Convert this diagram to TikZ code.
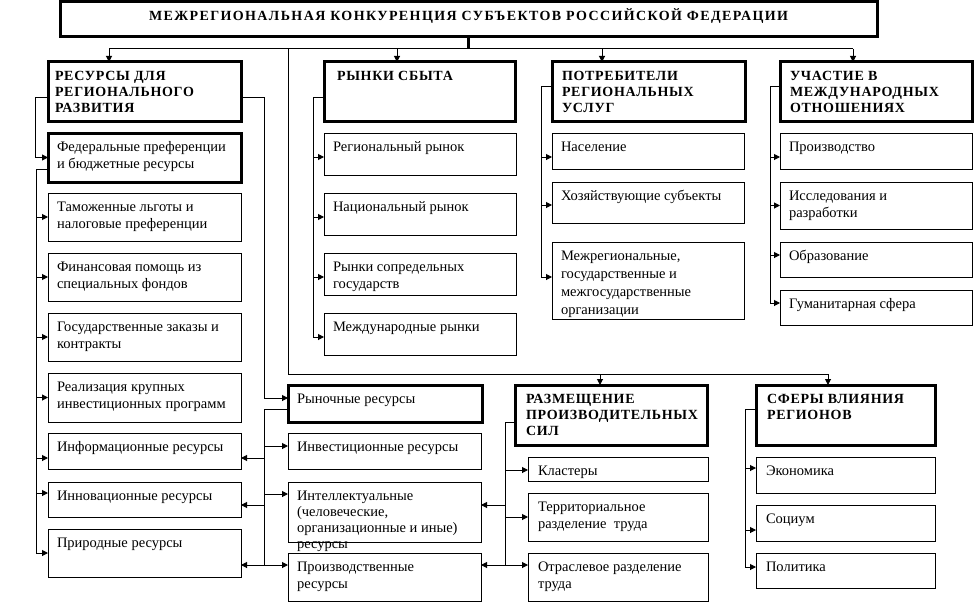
\documentclass[tikz,border=0pt]{standalone}
\usepackage{fontspec}
\setmainfont{Liberation Serif}
\usetikzlibrary{arrows.meta,calc}

% \bx[opts]{name}{x1}{y1}{x2}{y2}{left pad}{text}
\newcommand\bx[8][]{%
  \node[bxs,#1] (#2) at (#3,#4) {\parbox[t][\dimexpr #6pt-#4pt\relax][t]{\dimexpr #5pt-#3pt\relax}{\leftskip=#7pt\rightskip=0pt plus 1fil\parfillskip=0pt plus 1fil\noindent\rule{0pt}{18.5pt}#8}};}

\tikzset{
  bxs/.style={draw, line width=1pt, inner sep=0pt, outer sep=0pt, anchor=north west,
    font=\fontsize{14.5}{17}\selectfont},
  thk/.style={line width=3pt},
  hd/.style={thk, font=\fontsize{14}{16}\selectfont\bfseries\addfontfeature{LetterSpace=5}},
  ttl/.style={thk, font=\fontsize{14}{16}\selectfont\bfseries\addfontfeature{LetterSpace=10}},
  arr/.style={-{Triangle[length=6pt,width=6pt]}},
  arrs/.style={{Triangle[length=6pt,width=6pt]}-{Triangle[length=6pt,width=6pt]}},
}

\begin{document}
\begin{tikzpicture}[x=1pt,y=-1pt,line width=1pt]
\useasboundingbox (0,0) rectangle (974,602);

% title and headers
\bx[ttl]{T}{60}{2}{877}{37}{0}{\centering МЕЖРЕГИОНАЛЬНАЯ КОНКУРЕНЦИЯ СУБЪЕКТОВ РОССИЙСКОЙ ФЕДЕРАЦИИ}
\bx[hd]{A}{48}{62}{241}{121}{7}{РЕСУРСЫ ДЛЯ\\РЕГИОНАЛЬНОГО\\РАЗВИТИЯ}
\bx[hd]{B}{324}{62}{515}{121}{13}{РЫНКИ СБЫТА}
\bx[hd]{C}{552}{62}{745}{121}{10}{ПОТРЕБИТЕЛИ\\РЕГИОНАЛЬНЫХ\\УСЛУГ}
\bx[hd]{D}{780}{62}{972}{121}{10}{УЧАСТИЕ В\\МЕЖДУНАРОДНЫХ\\ОТНОШЕНИЯХ}

% column A
\bx[thk]{a1}{48}{133}{241}{182}{9}{Федеральные преференции\\и бюджетные ресурсы}
\bx{a2}{48}{193}{241}{241}{9}{Таможенные льготы и\\налоговые преференции}
\bx{a3}{48}{253}{241}{301}{9}{Финансовая помощь из\\специальных фондов}
\bx{a4}{48}{313}{241}{361}{9}{Государственные заказы и\\контракты}
\bx{a5}{48}{373}{241}{422}{9}{Реализация крупных\\инвестиционных программ}
\bx{a6}{48}{433}{241}{469}{9}{Информационные ресурсы}
\bx{a7}{48}{482}{241}{517}{9}{Инновационные ресурсы}
\bx{a8}{48}{529}{241}{577}{9}{Природные ресурсы}

% column B
\bx{b1}{324}{133}{516}{175}{9}{Региональный рынок}
\bx{b2}{324}{193}{516}{235}{9}{Национальный рынок}
\bx{b3}{324}{253}{516}{295}{9}{Рынки сопредельных\\государств}
\bx{b4}{324}{313}{516}{355}{9}{Международные рынки}

% column C
\bx{c1}{552}{133}{744}{169}{9}{Население}
\bx{c2}{552}{182}{744}{223}{9}{Хозяйствующие субъекты}
\bx{c3}{552}{242}{744}{319}{9}{\fontsize{14.5}{18}\selectfont Межрегиональные,\\государственные и\\межгосударственные\\организации}

% column D
\bx{d1}{780}{133}{972}{169}{9}{Производство}
\bx{d2}{780}{182}{972}{229}{9}{Исследования и\\разработки}
\bx{d3}{780}{242}{972}{277}{9}{Образование}
\bx{d4}{780}{290}{972}{325}{9}{Гуманитарная сфера}

% market resources
\bx[thk]{m1}{288}{385}{482}{422}{9}{Рыночные ресурсы}
\bx{m2}{288}{433}{481}{469}{9}{Инвестиционные ресурсы}
\bx{m3}{288}{482}{481}{542}{9}{\fontsize{14.5}{16}\selectfont Интеллектуальные\\(человеческие,\\организационные и иные)\\ресурсы}
\bx{m4}{288}{553}{481}{601}{9}{Производственные\\ресурсы}

% production forces
\bx[hd]{E}{515}{385}{707}{445}{11}{РАЗМЕЩЕНИЕ\\ПРОИЗВОДИТЕЛЬНЫХ\\СИЛ}
\bx{e1}{528}{457}{708}{481}{10}{Кластеры}
\bx{e2}{528}{493}{708}{541}{10}{Территориальное\\разделение\ \ труда}
\bx{e3}{528}{553}{708}{601}{10}{Отраслевое разделение\\труда}

% spheres of influence
\bx[hd]{F}{756}{385}{935}{445}{11}{СФЕРЫ ВЛИЯНИЯ\\РЕГИОНОВ}
\bx{f1}{756}{457}{935}{493}{10}{Экономика}
\bx{f2}{756}{505}{935}{541}{10}{Социум}
\bx{f3}{756}{553}{935}{588}{10}{Политика}

% ---------- connectors ----------
\coordinate (tj) at (468,49);
\draw[line width=3pt] (T.south -| tj) -- (tj);
\coordinate (pA) at (109,49);
\coordinate (pB) at (397,49);
\coordinate (pC) at (602,49);
\coordinate (pD) at (853,49);
\coordinate (pM) at (288,49);
\draw (pA) -- (pD);
\foreach \p/\n in {pA/A,pB/B,pC/C,pD/D} \draw[arr] (\p) -- (\p |- \n.north);

\coordinate (lb) at (288,374);
\coordinate (pE) at (600,374);
\coordinate (pF) at (828,374);
\draw (pM) -- (lb) -- (pF);
\draw[arr] (pE) -- (pE |- E.north);
\draw[arr] (pF) -- (pF |- F.north);

% column A, left spine
\coordinate (sA1) at (35,97);
\coordinate (sA2) at (36,169);
\draw[arr] (A.west |- sA1) -- (sA1) |- (a1.west);
\path ($(a6.west)+(0,7)$) coordinate (a6l) ($(a7.west)+(0,-6.5)$) coordinate (a7l);
\draw (a1.west |- sA2) -- (sA2) -- (sA2 |- a8.west);
\foreach \n in {a2,a3,a4,a5,a8} \draw[arr] (sA2 |- \n.west) -- (\n.west);
\draw[arr] (sA2 |- a6l) -- (a6l);
\draw[arr] (sA2 |- a7l) -- (a7l);

% column A, right spine
\coordinate (sR) at (264,97);
\path ($(m1.west)+(0,-5.5)$) coordinate (m1in)
      ($(m1.west)+(0,5.5)$) coordinate (m1out)
      ($(m2.west)+(0,-5)$) coordinate (m2in)
      ($(m3.west)+(0,-18)$) coordinate (m3in)
      ($(m4.west)+(0,-12)$) coordinate (m4in)
      ($(a6.east)+(0,7)$) coordinate (a6r)
      ($(a7.east)+(0,5.5)$) coordinate (a7r)
      ($(a8.east)+(0,12)$) coordinate (a8r);
\draw[arr] (A.east |- sR) -- (sR) |- (m1in);
\draw (m1out) -| (sR |- a8r);
\draw[arr] (sR |- m2in) -- (m2in);
\draw[arr] (sR |- m3in) -- (m3in);
\draw[arr] (sR |- a6r) -- (a6r);
\draw[arr] (sR |- a7r) -- (a7r);
\draw[arrs] (a8r) -- (m4in);

% column B
\coordinate (sB) at (313,97);
\path ($(b1.west)+(0,3)$) coordinate (b1i) ($(b2.west)+(0,3)$) coordinate (b2i)
      ($(b3.west)+(0,3)$) coordinate (b3i) ($(b4.west)+(0,3)$) coordinate (b4i);
\draw (B.west |- sB) -- (sB) -- (sB |- b4i);
\foreach \n in {b1i,b2i,b3i,b4i} \draw[arr] (sB |- \n) -- (\n);

% column C
\coordinate (sC) at (541,86);
\path ($(c1.west)+(0,6)$) coordinate (c1i) ($(c2.west)+(0,2.5)$) coordinate (c2i)
      ($(c3.west)+(0,-3.5)$) coordinate (c3i);
\draw (C.west |- sC) -- (sC) -- (sC |- c3i);
\foreach \n in {c1i,c2i,c3i} \draw[arr] (sC |- \n) -- (\n);

% column D
\coordinate (sD) at (770,86);
\path ($(d1.west)+(0,6)$) coordinate (d1i) ($(d2.west)+(0,0)$) coordinate (d2i)
      ($(d3.west)+(0,-4.5)$) coordinate (d3i) ($(d4.west)+(0,-4.5)$) coordinate (d4i);
\draw (D.west |- sD) -- (sD) -- (sD |- d4i);
\foreach \n in {d1i,d2i,d3i,d4i} \draw[arr] (sD |- \n) -- (\n);

% production forces
\coordinate (sE) at (505,0);
\path ($(E.west)+(0,7)$) coordinate (Eo)
      ($(e1.west)+(0,1)$) coordinate (e1i)
      ($(e2.west)$) coordinate (e2i)
      ($(e3.west)+(0,-12)$) coordinate (e3i)
      ($(m3.east)+(0,-7)$) coordinate (m3r)
      ($(m4.east)+(0,-12)$) coordinate (m4r);
\draw (Eo) -| (sE |- e3i);
\draw[arr] (sE |- e1i) -- (e1i);
\draw[arr] (sE |- e2i) -- (e2i);
\draw[arr] (sE |- m3r) -- (m3r);
\draw[arrs] (m4r) -- (e3i);

% spheres of influence
\coordinate (sF) at (745,0);
\path ($(F.west)+(0,-6)$) coordinate (Fo)
      ($(f1.west)+(0,-7)$) coordinate (f1i)
      ($(f2.west)+(0,7)$) coordinate (f2i)
      ($(f3.west)+(0,-3.5)$) coordinate (f3i);
\draw (Fo) -| (sF |- f3i);
\foreach \n in {f1i,f2i,f3i} \draw[arr] (sF |- \n) -- (\n);
\end{tikzpicture}
\end{document}
